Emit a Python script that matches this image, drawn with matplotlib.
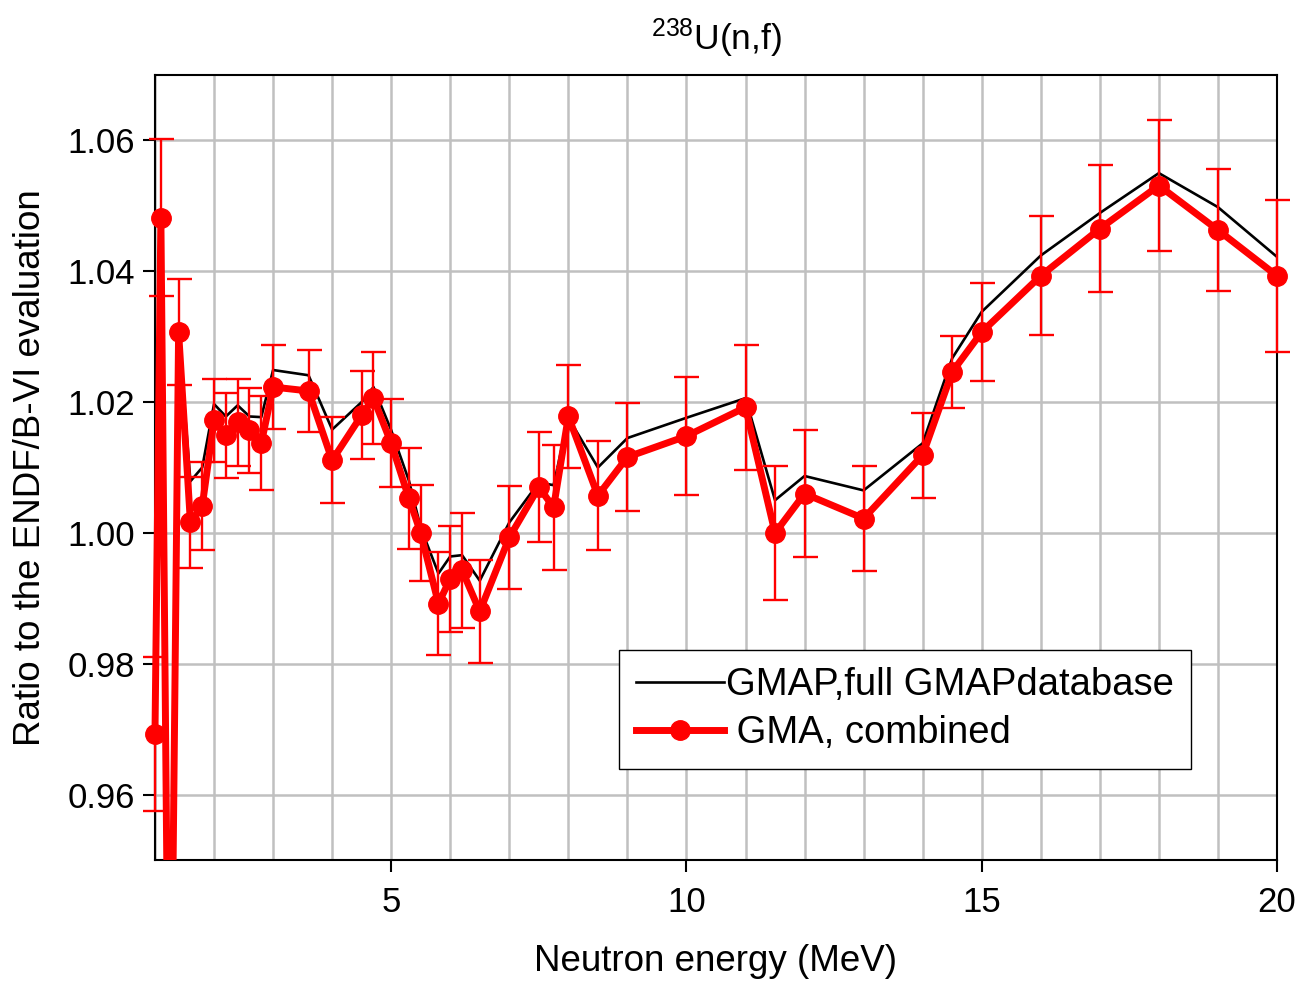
import numpy as np
import matplotlib.pyplot as plt
from matplotlib.ticker import MultipleLocator
from matplotlib.patches import Rectangle

plt.rcParams['font.family'] = ['Liberation Sans', 'DejaVu Sans']
plt.rcParams['mathtext.fontset'] = 'custom'
plt.rcParams['mathtext.rm'] = 'Liberation Sans'

# neutron energy (MeV)
energy = [1.0, 1.1, 1.25, 1.4, 1.6, 1.8, 2.0, 2.2, 2.4, 2.6, 2.8, 3.0, 3.6, 4.0,
          4.5, 4.7, 5.0, 5.3, 5.5, 5.8, 6.0, 6.2, 6.5, 7.0, 7.5, 7.75, 8.0, 8.5,
          9.0, 10.0, 11.0, 11.5, 12.0, 13.0, 14.0, 14.5, 15.0, 16.0, 17.0, 18.0,
          19.0, 20.0]

# GMA, combined
gma = [0.9693, 1.0482, 0.900, 1.0307, 1.0016, 1.0041, 1.0172, 1.0149, 1.0169,
       1.0157, 1.0137, 1.0223, 1.0217, 1.0111, 1.0180, 1.0206, 1.0137, 1.0053,
       1.0000, 0.9892, 0.9930, 0.9943, 0.9880, 0.9993, 1.0070, 1.0039, 1.0178,
       1.0057, 1.0116, 1.0148, 1.0192, 1.0000, 1.0060, 1.0022, 1.0119, 1.0246,
       1.0307, 1.0393, 1.0465, 1.0531, 1.0463, 1.0393]
gma_err = [0.0118, 0.0120, 0.010, 0.0081, 0.0070, 0.0067, 0.0064, 0.0065, 0.0067,
           0.0065, 0.0072, 0.0064, 0.0063, 0.0066, 0.0067, 0.0070, 0.0067, 0.0077,
           0.0074, 0.0079, 0.0081, 0.0088, 0.0079, 0.0078, 0.0084, 0.0096, 0.0079,
           0.0083, 0.0083, 0.0090, 0.0096, 0.0103, 0.0097, 0.0080, 0.0065, 0.0055,
           0.0075, 0.0091, 0.0097, 0.0100, 0.0093, 0.0116]

# GMAP, full GMAP database
gmap = [0.9693, 1.0482, 0.900, 1.0307, 1.0079, 1.0100, 1.0197, 1.0178, 1.0195,
        1.0178, 1.0177, 1.0249, 1.0241, 1.0158, 1.0200, 1.0223, 1.0157, 1.0080,
        1.0008, 0.9938, 0.9964, 0.9966, 0.9927, 1.0016, 1.0077, 1.0073, 1.0176,
        1.0100, 1.0145, 1.0176, 1.0206, 1.0050, 1.0087, 1.0065, 1.0137, 1.0267,
        1.0338, 1.0424, 1.0489, 1.0550, 1.0498, 1.0422]

fig = plt.figure(figsize=(12.98, 9.84), dpi=100)
ax = fig.add_axes([0.1194, 0.126, 0.8644, 0.7978])

# clip only top/bottom so markers on the side spines show in full
clip = Rectangle((-0.04, 0), 1.08, 1.0, transform=ax.transAxes,
                 fill=False, visible=False)

l1, = ax.plot(energy, gmap, color='black', lw=1.9, zorder=3,
              label='GMAP,full GMAPdatabase')
eb = ax.errorbar(energy, gma, yerr=gma_err, fmt='none', ecolor='red',
                 elinewidth=1.7, capsize=9, capthick=1.7, zorder=4)
l2, = ax.plot(energy, gma, color='red', lw=5, marker='o', ms=14,
              zorder=5, label=' GMA, combined')
for art in list(eb.lines[1]) + list(eb.lines[2]) + [l2]:
    art.set_clip_path(clip)

ax.set_xlim(1, 20)
ax.set_ylim(0.95, 1.07)
ax.xaxis.set_major_locator(MultipleLocator(5))
ax.xaxis.set_minor_locator(MultipleLocator(1))
ax.yaxis.set_major_locator(MultipleLocator(0.02))
ax.yaxis.set_major_formatter(plt.FormatStrFormatter('%.2f'))
ax.grid(True, which='both', axis='x', color='#c0c0c0', lw=1.8, zorder=0)
ax.grid(True, which='major', axis='y', color='#c0c0c0', lw=1.8, zorder=0)
ax.set_axisbelow(True)
ax.tick_params(which='major', direction='out', length=8.5, width=1.5,
               labelsize=25, pad=6)
ax.tick_params(axis='x', which='major', pad=10)
ax.tick_params(which='minor', length=0)
for s in ax.spines.values():
    s.set_linewidth(1.5)

ax.set_xlabel('Neutron energy (MeV)', fontsize=26.5, labelpad=18)
ax.set_ylabel('Ratio to the ENDF/B-VI evaluation', fontsize=26.5, labelpad=14)
ax.set_title(r'$\mathregular{^{238}}$U(n,f)', fontsize=25.5, pad=18)

leg = ax.legend(handles=[l1, l2], loc='upper left',
                bbox_to_anchor=(0.4135, 0.2675), borderaxespad=0,
                fontsize=27.5, handlelength=2.3, handletextpad=0.05,
                numpoints=1, fancybox=False, framealpha=1,
                edgecolor='black', borderpad=0.45, labelspacing=0.32)
leg.get_frame().set_linewidth(1.0)

plt.savefig('out.png', dpi=100)
